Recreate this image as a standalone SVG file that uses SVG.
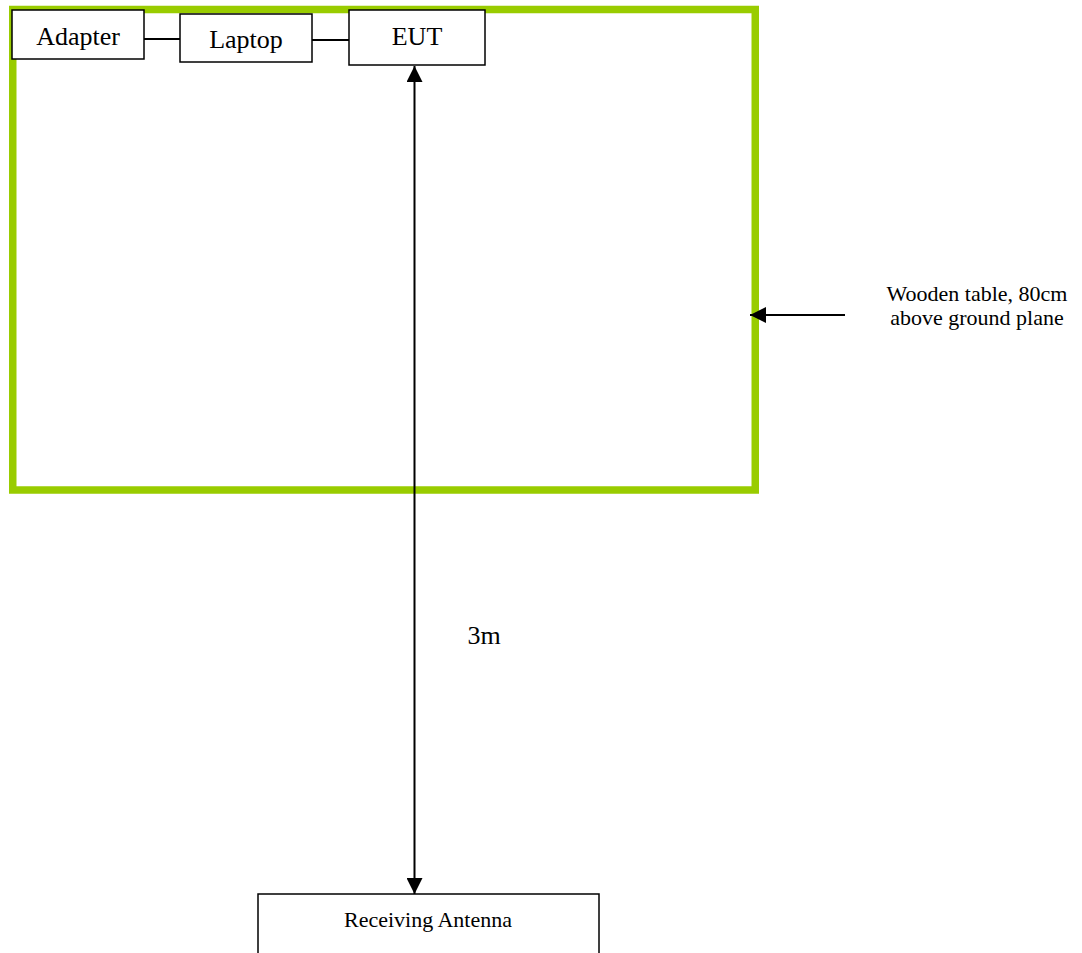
<svg xmlns="http://www.w3.org/2000/svg" width="1082" height="953" viewBox="0 0 1082 953">
<style>
.box{fill:#fff;stroke:#000;stroke-width:1.5}
.t{font-family:"Liberation Serif","Times New Roman",serif;fill:#000;text-anchor:middle}
.ln{stroke:#000;stroke-width:2;fill:none}
</style>
<defs>
<marker id="ah2" viewBox="0 0 16 16" refX="16" refY="8" markerWidth="16" markerHeight="16" markerUnits="userSpaceOnUse" orient="auto-start-reverse">
<path d="M0,0 L16,8 L0,16 z" fill="#000"/>
</marker>
</defs>
<rect width="1082" height="953" fill="#fff"/>
<g id="table">
<rect x="12.75" y="9.5" width="742.5" height="480.5" fill="none" stroke="#99CC00" stroke-width="7.5"/>
</g>
<g id="connectors">
<line class="ln" x1="144" y1="39" x2="180" y2="39" stroke-width="1.5"/>
<line class="ln" x1="312" y1="40" x2="349" y2="40" stroke-width="1.5"/>
<line class="ln" x1="414.5" y1="66" x2="414.5" y2="894" marker-start="url(#ah2)" marker-end="url(#ah2)"/>
<line class="ln" x1="845" y1="315" x2="750" y2="315" marker-end="url(#ah2)"/>
</g>
<g id="adapter">
<rect class="box" x="12" y="10" width="132" height="49"/>
<text class="t" x="78" y="45" font-size="26">Adapter</text>
</g>
<g id="laptop">
<rect class="box" x="180" y="14" width="132" height="48"/>
<text class="t" x="246" y="48" font-size="26">Laptop</text>
</g>
<g id="eut">
<rect class="box" x="349" y="10" width="136" height="55"/>
<text class="t" x="417" y="45" font-size="26">EUT</text>
</g>
<g id="label-table">
<text class="t" x="977" y="301" font-size="22">Wooden table, 80cm</text>
<text class="t" x="977" y="325" font-size="22">above ground plane</text>
</g>
<g id="label-distance">
<text class="t" x="484" y="644" font-size="26">3m</text>
</g>
<g id="antenna">
<rect class="box" x="258" y="894" width="341" height="70"/>
<text class="t" x="428" y="927" font-size="22">Receiving Antenna</text>
</g>
</svg>
